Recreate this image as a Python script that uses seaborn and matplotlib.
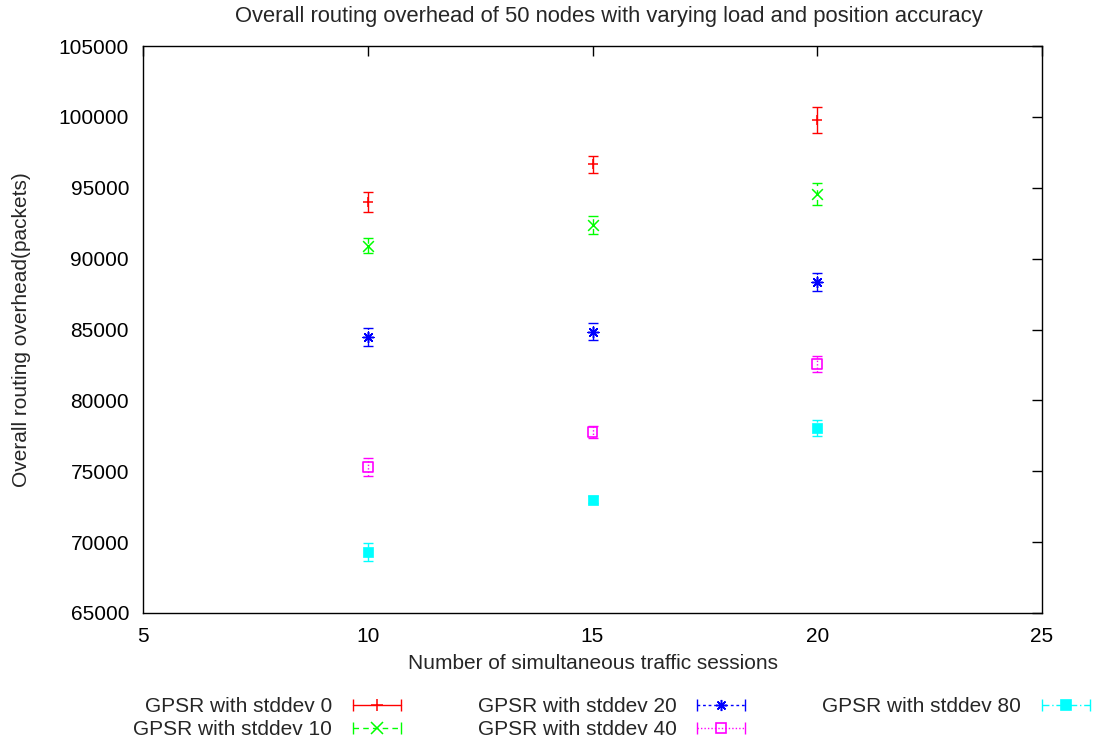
import matplotlib
matplotlib.use("Agg")
import matplotlib.pyplot as plt
from matplotlib.lines import Line2D
from matplotlib.legend_handler import HandlerLine2D, HandlerTuple
import seaborn as sns
import pandas as pd

sessions = [10, 15, 20]
labels = ["GPSR with stddev 0", "GPSR with stddev 10", "GPSR with stddev 20",
          "GPSR with stddev 40", "GPSR with stddev 80"]
sd0 = [94000, 96650, 99780]
sd0_err = [680, 590, 900]
sd10 = [90900, 92400, 94550]
sd10_err = [530, 640, 800]
sd20 = [84500, 84850, 88350]
sd20_err = [635, 610, 635]
sd40 = [75300, 77750, 82550]
sd40_err = [670, 430, 560]
sd80 = [69300, 73000, 78050]
sd80_err = [660, 250, 590]

xticks = [5, 10, 15, 20, 25]
yticks = list(range(65000, 105001, 5000))

sns.set_style("white")
plt.rcParams['font.family'] = ['Liberation Sans', 'DejaVu Sans']
FS = 15

fig = plt.figure(figsize=(10.98, 7.42), dpi=100)
ax = fig.add_axes([143/1098, 1-613/742, (1042-143)/1098, (613-46)/742])

series = [
    (sd0, sd0_err, "#ff0000", "+", "-", True),
    (sd10, sd10_err, "#00ff00", "x", (0, (4, 3)), True),
    (sd20, sd20_err, "#0000ff", (8, 2, 0), (0, (2, 2)), True),
    (sd40, sd40_err, "#ff00ff", "s", (0, (1, 1.5)), False),
    (sd80, sd80_err, "#00ffff", "s", (0, (5, 2, 1, 2)), True),
]

handles = []
hmap = {}
for (vals, errs, col, mk, ls, filled), lab in zip(series, labels):
    eb = ax.errorbar(sessions, vals, yerr=errs, fmt="none", ecolor=col,
                     elinewidth=1, capsize=3.6, capthick=1)
    for lc in eb[2]:
        lc.set_linestyle(ls)
    df = pd.DataFrame({"x": sessions, "y": vals})
    if mk == "s":
        if filled:
            sns.scatterplot(data=df, x="x", y="y", marker="s", s=50,
                            color=col, edgecolor=col, linewidth=0.5, ax=ax, zorder=3)
        else:
            sns.scatterplot(data=df, x="x", y="y", marker="s", s=50,
                            facecolor="none", edgecolor=col, linewidth=1.2, ax=ax, zorder=3)
    else:
        sns.scatterplot(data=df, x="x", y="y", marker=mk, s=60,
                        color=col, linewidth=1.1, ax=ax, zorder=3)
    caps = Line2D([], [], color=col, linestyle=ls, linewidth=1,
                  marker="|", markersize=8, markeredgewidth=1)
    if mk == "s":
        cen = Line2D([], [], linestyle="none", marker="s", markersize=7,
                     markerfacecolor=col if filled else "none",
                     markeredgecolor=col, markeredgewidth=1.2)
    else:
        cen = Line2D([], [], linestyle="none", marker=mk, markersize=8,
                     color=col, markeredgewidth=1.1)
    hmap[caps] = HandlerLine2D(numpoints=2)
    hmap[cen] = HandlerLine2D(numpoints=1)
    handles.append((caps, cen))

ax.set_xlim(5, 25)
ax.set_ylim(65000, 105000)
ax.set_xticks(xticks)
ax.set_yticks(yticks)
ax.set_xticklabels([str(t) for t in xticks], fontsize=FS)
ax.set_yticklabels([str(t) for t in yticks], fontsize=FS)
ax.tick_params(direction="in", length=7, width=1, top=True, right=True,
               pad=10, colors="black")
for sp in ax.spines.values():
    sp.set_color("black")
    sp.set_linewidth(1)
ax.set_xlabel("Number of simultaneous traffic sessions", fontsize=FS, labelpad=6)
ax.set_ylabel("Overall routing overhead(packets)", fontsize=FS, labelpad=20)

fig.text(609/1098, 1-21.7/742, "Overall routing overhead of 50 nodes with varying load and position accuracy",
         ha="center", va="baseline", fontsize=15.8)

leg = fig.legend(handles, labels, handler_map={**hmap, tuple: HandlerTuple(ndivide=1)},
                 loc="upper left", bbox_to_anchor=(133/1098, 1-697/742),
                 bbox_transform=fig.transFigure, ncol=3, frameon=False,
                 fontsize=FS, markerfirst=False, handlelength=2.9,
                 handletextpad=0.7, columnspacing=3.4, labelspacing=0.2,
                 borderpad=0, borderaxespad=0)

fig.savefig("out.png", dpi=100, facecolor="white")
